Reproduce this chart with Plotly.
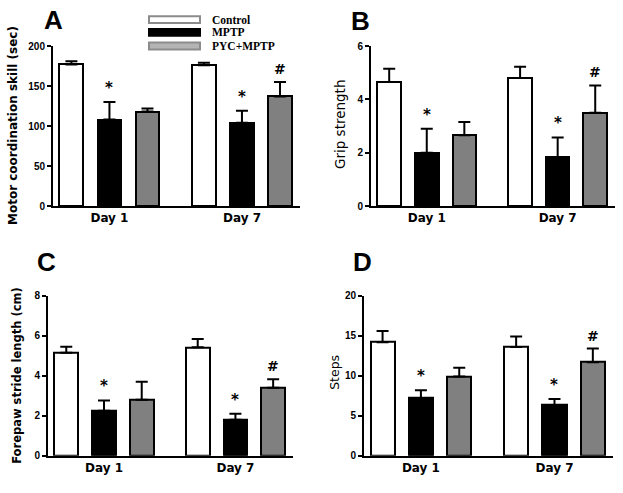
import plotly.graph_objects as go

days = ["Day 1", "Day 7"]
groups = ["Control", "MPTP", "PYC+MPTP"]

# Panel A: Motor coordination skill (sec)
a_mean = {"Control": [177, 176], "MPTP": [108, 104], "PYC+MPTP": [118, 137]}
a_err = {"Control": [4, 3], "MPTP": [22, 15], "PYC+MPTP": [4, 18]}
# Panel B: Grip strength
b_mean = {"Control": [4.65, 4.8], "MPTP": [2.0, 1.82], "PYC+MPTP": [2.65, 3.5]}
b_err = {"Control": [0.5, 0.42], "MPTP": [0.9, 0.75], "PYC+MPTP": [0.5, 1.02]}
# Panel C: Forepaw stride length (cm)
c_mean = {"Control": [5.15, 5.42], "MPTP": [2.25, 1.8], "PYC+MPTP": [2.8, 3.4]}
c_err = {"Control": [0.3, 0.42], "MPTP": [0.52, 0.3], "PYC+MPTP": [0.9, 0.42]}
# Panel D: Steps
d_mean = {"Control": [14.2, 13.6], "MPTP": [7.2, 6.35], "PYC+MPTP": [9.9, 11.7]}
d_err = {"Control": [1.4, 1.3], "MPTP": [1.0, 0.75], "PYC+MPTP": [1.1, 1.7]}

sig = {"Control": ["", ""], "MPTP": ["*", "*"], "PYC+MPTP": ["", "#"]}

panels = [
    dict(letter="A", title="Motor coordination skill (sec)", mean=a_mean, err=a_err,
         ymax=200, dtick=50, xd=[53, 300], yd=[41, 205], lx=53, ly=14, tx=13, ty=123,
         tsize=12, tweight="bold"),
    dict(letter="B", title="Grip strength", mean=b_mean, err=b_err,
         ymax=6, dtick=2, xd=[371, 615], yd=[41, 205], lx=360, ly=15, tx=340, ty=122,
         tsize=13.5, tweight="normal"),
    dict(letter="C", title="Forepaw stride length (cm)", mean=c_mean, err=c_err,
         ymax=8, dtick=2, xd=[48, 293], yd=[297, 461], lx=47, ly=262, tx=17, ty=379,
         tsize=11.5, tweight="bold"),
    dict(letter="D", title="Steps", mean=d_mean, err=d_err,
         ymax=20, dtick=5, xd=[364, 613], yd=[297, 461], lx=362, ly=262, tx=335, ty=376,
         tsize=12.5, tweight="normal"),
]

W, H = 623, 493
fills = {"Control": "white", "MPTP": "black", "PYC+MPTP": "#808080"}
offsets = {"Control": -0.287, "MPTP": 0.0, "PYC+MPTP": 0.287}

fig = go.Figure()
annotations = []
FONT = "DejaVu Sans"

for i, p in enumerate(panels):
    n = "" if i == 0 else str(i + 1)
    xa, ya = "x" + n, "y" + n
    for g in groups:
        xs = [k + offsets[g] for k in range(len(days))]
        fig.add_trace(go.Bar(
            x=xs, y=p["mean"][g], width=0.18, xaxis=xa, yaxis=ya,
            marker=dict(color=fills[g], line=dict(color="black", width=2)),
            error_y=dict(type="data", array=p["err"][g], arrayminus=[0, 0],
                         color="black", thickness=2, width=6),
            showlegend=False, name=g,
        ))
        for k in range(len(days)):
            if sig[g][k]:
                annotations.append(dict(
                    x=xs[k], y=p["mean"][g][k] + p["err"][g][k], xref=xa, yref=ya,
                    text=sig[g][k], showarrow=False, yanchor="bottom", yshift=3,
                    font=dict(family=FONT, size=15 if sig[g][k] == "*" else 14,
                              color="black", weight="bold")))
    xd = [p["xd"][0] / W, p["xd"][1] / W]
    yd = [1 - p["yd"][1] / H, 1 - p["yd"][0] / H]
    fig.layout["xaxis" + n] = dict(
        domain=xd, range=[-0.426, 1.438], anchor=ya, tickvals=[0, 1], ticktext=days,
        showline=True, linecolor="black", linewidth=2, ticks="", showgrid=False,
        zeroline=False, tickfont=dict(family=FONT, size=12, color="black", weight="bold"),
        fixedrange=True)
    fig.layout["yaxis" + n] = dict(
        domain=yd, range=[0, p["ymax"]], anchor=xa, dtick=p["dtick"],
        showline=True, linecolor="black", linewidth=2, ticks="outside", ticklen=4,
        tickwidth=2, tickcolor="black", showgrid=False, zeroline=False,
        tickfont=dict(family="Liberation Sans", size=10, color="black", weight="bold"))
    annotations.append(dict(
        x=p["lx"] / W, y=1 - p["ly"] / H, xref="paper", yref="paper", text=p["letter"],
        showarrow=False, xanchor="center", yanchor="middle",
        font=dict(family="Liberation Sans", size=26, color="black", weight="bold")))
    annotations.append(dict(
        x=p["tx"] / W, y=1 - p["ty"] / H, xref="paper", yref="paper", text=p["title"],
        showarrow=False, textangle=-90, xanchor="center", yanchor="middle",
        font=dict(family=FONT, size=p["tsize"], color="black", weight=p["tweight"])))

# Legend drawn as boxes + labels
shapes = []
leg_fill = {"Control": "white", "MPTP": "black", "PYC+MPTP": "#b4b4b4"}
leg_line = {"Control": "#8c8c8c", "MPTP": "black", "PYC+MPTP": "#8c8c8c"}
leg_y = [14, 27, 41]
for g, yc in zip(groups, leg_y):
    shapes.append(dict(type="rect", xref="paper", yref="paper",
                       x0=149 / W, x1=200 / W, y0=1 - (yc + 3.5) / H, y1=1 - (yc - 3.5) / H,
                       fillcolor=leg_fill[g], line=dict(color=leg_line[g], width=2)))
    annotations.append(dict(x=210 / W, y=1 - yc / H, xref="paper", yref="paper", text=g,
                            showarrow=False, xanchor="left", yanchor="middle",
                            font=dict(family="Liberation Serif", size=11.5, color="black",
                                      weight="bold")))

fig.update_layout(
    width=W, height=H, margin=dict(l=0, r=0, t=0, b=0),
    paper_bgcolor="white", plot_bgcolor="white", bargap=0,
    annotations=annotations, shapes=shapes, barmode="overlay",
)
fig.write_html("out.html", post_script="document.body.style.margin='0';",
               config={"displayModeBar": False})
